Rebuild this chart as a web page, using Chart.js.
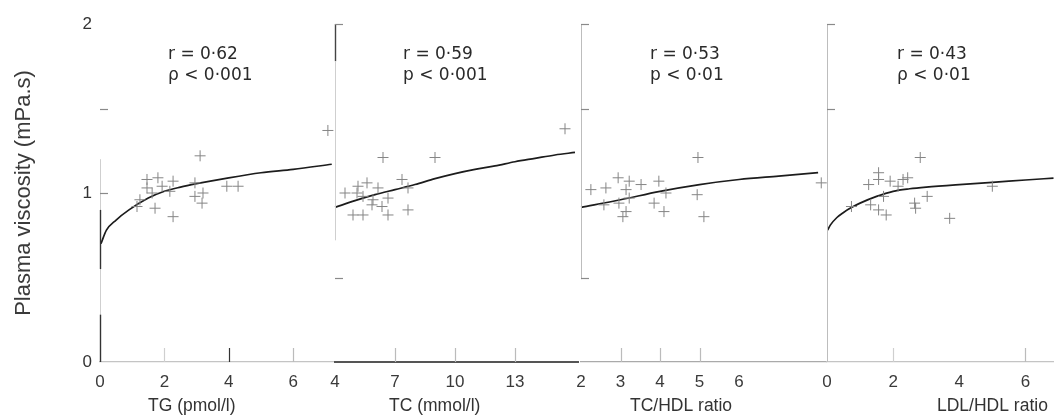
<!DOCTYPE html>
<html><head><meta charset="utf-8">
<script src="https://cdn.jsdelivr.net/npm/chart.js@4/dist/chart.umd.min.js"></script>
<style>
body{margin:0;background:#fff;}
#wrap{position:relative;width:1060px;height:418px;overflow:hidden;background:#fff;}
canvas{position:absolute;left:0;top:0;}
</style></head>
<body><div id="wrap">
<canvas id="c0" width="1060" height="418"></canvas>
<canvas id="c1" width="1060" height="418"></canvas>
<canvas id="c2" width="1060" height="418"></canvas>
<canvas id="c3" width="1060" height="418"></canvas>
</div>
<script>
// ---------- data ----------
const yTicks = [0, 1, 2];
const xTitles = ['TG (pmol/l)', 'TC (mmol/l)', 'TC/HDL ratio', 'LDL/HDL ratio'];
const rTexts = ['r = 0·62', 'r = 0·59', 'r = 0·53', 'r = 0·43'];
const pTexts = ['ρ < 0·001', 'p < 0·001', 'p < 0·01', 'ρ < 0·01'];

const tgTicks  = [0, 2, 4, 6];
const tcTicks  = [4, 7, 10, 13];
const tchTicks = [2, 3, 4, 5, 6];
const ldlTicks = [0, 2, 4, 6];

// scatter points
const tgX = [1.46, 1.80, 2.27, 1.46, 1.93, 2.17, 2.95, 3.20, 3.94, 4.29, 3.17, 1.15, 1.71, 2.27, 1.24, 3.11, 7.08, 1.62, 2.95];
const tgY = [1.08, 1.09, 1.07, 1.03, 1.04, 1.01, 1.06, 1.00, 1.04, 1.04, 0.94, 0.92, 0.91, 0.86, 0.96, 1.22, 1.37, 1.00, 0.98];

const tcX = [5.15, 5.6, 6.15, 5.1, 5.4, 5.9, 6.65, 5.85, 6.35, 4.9, 5.4, 6.65, 7.35, 7.65, 7.65, 6.4, 9.0, 15.5, 4.5];
const tcY = [1.04, 1.06, 1.03, 1.00, 0.98, 0.96, 0.97, 0.93, 0.92, 0.87, 0.87, 0.87, 1.08, 1.03, 0.90, 1.21, 1.21, 1.38, 1.00];

const tchX = [2.94, 3.22, 2.63, 3.14, 3.52, 3.97, 4.15, 3.22, 2.58, 2.96, 3.85, 3.14, 3.06, 4.10, 4.96, 4.94, 5.11, 8.08, 2.25];
const tchY = [1.09, 1.07, 1.03, 1.02, 1.05, 1.07, 1.00, 0.97, 0.93, 0.94, 0.94, 0.89, 0.86, 0.89, 1.21, 0.99, 0.86, 1.06, 1.02];

const ldlX = [1.26, 1.56, 1.56, 1.91, 2.44, 2.82, 2.15, 1.71, 1.32, 1.56, 1.79, 2.65, 2.68, 3.03, 3.71, 5.0, 0.74, 2.3];
const ldlY = [1.05, 1.08, 1.12, 1.07, 1.09, 1.21, 1.04, 0.98, 0.93, 0.90, 0.87, 0.94, 0.91, 0.98, 0.85, 1.04, 0.92, 1.08];

// fitted curves
const tgFitX = [0.03, 0.2, 0.5, 0.9, 1.5, 2.0, 2.5, 3.0, 4.0, 5.0, 6.0, 7.2];
const tgFitY = [0.70, 0.78, 0.84, 0.90, 0.97, 1.01, 1.035, 1.055, 1.09, 1.12, 1.14, 1.17];

const tcFitX = [4, 5, 6, 7, 8, 9, 10, 11, 12, 13, 14, 15, 16];
const tcFitY = [0.915, 0.955, 0.99, 1.02, 1.05, 1.085, 1.115, 1.14, 1.16, 1.185, 1.205, 1.225, 1.24];

const tchFitX = [2, 3, 4, 5, 6, 7, 8];
const tchFitY = [0.915, 0.96, 1.01, 1.05, 1.08, 1.10, 1.12];

const ldlFitX = [0.02, 0.1, 0.3, 0.5, 0.75, 1.0, 1.5, 2.0, 2.5, 3.0, 4.0, 5.0, 6.0, 6.85];
const ldlFitY = [0.78, 0.81, 0.855, 0.885, 0.915, 0.94, 0.98, 1.01, 1.025, 1.035, 1.05, 1.063, 1.077, 1.088];

// ---------- drawing ----------
const FONT = '"Liberation Sans", Arial, sans-serif';
const ANNOT_FONT = '"DejaVu Sans", sans-serif';

const deco = {
  id: 'deco',
  afterDraw(chart, args, o) {
    const ctx = chart.ctx, xs = chart.scales.x, ys = chart.scales.y;
    ctx.save();
    // y axis segments
    o.ySeg.forEach(s => {
      ctx.strokeStyle = s[2]; ctx.lineWidth = s[3];
      const x = xs.left + 0.5;
      ctx.beginPath(); ctx.moveTo(x, ys.getPixelForValue(s[0])); ctx.lineTo(x, ys.getPixelForValue(s[1])); ctx.stroke();
    });
    // small y ticks (inward)
    ctx.strokeStyle = '#8a8a8a'; ctx.lineWidth = 1.2;
    o.yMarks.forEach(v => {
      const y = Math.round(ys.getPixelForValue(v)) + 0.5;
      ctx.beginPath(); ctx.moveTo(xs.left, y); ctx.lineTo(xs.left + 8, y); ctx.stroke();
    });
    // inward x ticks
    o.xMarks.forEach(m => {
      ctx.strokeStyle = m[1]; ctx.lineWidth = 1.2;
      const x = Math.round(xs.getPixelForValue(m[0])) + 0.5;
      ctx.beginPath(); ctx.moveTo(x, ys.bottom); ctx.lineTo(x, ys.bottom - 14); ctx.stroke();
    });
    // annotation
    ctx.fillStyle = '#2a2a2a';
    ctx.font = '17px ' + ANNOT_FONT;
    ctx.textAlign = 'left'; ctx.textBaseline = 'alphabetic';
    ctx.fillText(o.r, o.tx, 59);
    ctx.fillText(o.p, o.tx, 80);
    // x title
    ctx.font = '17.5px ' + FONT;
    ctx.fillStyle = '#333';
    ctx.textAlign = 'left'; ctx.textBaseline = 'middle';
    ctx.fillText(o.title, o.titleX, 406);
    ctx.restore();
  }
};

function makePanel(id, p) {
  const first = p.first;
  return new Chart(document.getElementById(id), {
    type: 'scatter',
    data: {
      datasets: [
        { data: p.px.map((x, i) => ({ x, y: p.py[i] })), pointStyle: 'cross', pointRadius: 5.5,
          pointBorderColor: '#858585', pointBorderWidth: 1, pointBackgroundColor: '#858585', showLine: false, clip: false },
        { data: p.fx.map((x, i) => ({ x, y: p.fy[i] })), showLine: true, pointRadius: 0,
          borderColor: '#1c1c1c', borderWidth: 1.7, cubicInterpolationMode: 'monotone', fill: false, clip: false }
      ]
    },
    options: {
      responsive: false, animation: false, devicePixelRatio: 1,
      layout: { padding: { left: p.padL, right: p.padR, top: 24, bottom: 0 } },
      plugins: {
        legend: { display: false }, tooltip: { enabled: false },
        deco: { ySeg: p.ySeg, yMarks: p.yMarks, xMarks: p.xMarks, r: p.r, p: p.p, tx: p.tx, title: p.title, titleX: p.titleX }
      },
      scales: {
        x: {
          type: 'linear', min: p.xmin, max: p.xmax, position: 'bottom',
          afterBuildTicks: s => { s.ticks = p.ticks.map(v => ({ value: v })); },
          afterFit: s => { s.height = 56; },
          ticks: { font: { family: FONT, size: 17 }, color: '#3a3a3a', padding: 10, maxRotation: 0, autoSkip: false },
          grid: { display: false, drawTicks: false },
          border: { display: true, color: p.xColor, width: p.xWidth }
        },
        y: {
          type: 'linear', min: 0, max: 2, position: 'left',
          afterBuildTicks: s => { s.ticks = yTicks.map(v => ({ value: v })); },
          afterFit: s => { s.width = first ? 100 : 0; },
          ticks: { display: first, font: { family: FONT, size: 17 }, color: '#333', padding: 8 },
          grid: { display: false, drawTicks: false },
          border: { display: false },
          title: { display: first, text: 'Plasma viscosity (mPa.s)', font: { family: FONT, size: 22 }, color: '#3a3a3a', padding: { top: 11, bottom: 0 } }
        }
      }
    },
    plugins: [deco]
  });
}

makePanel('c0', { first: true, padL: 0, padR: 1060 - 334, xmin: 0, xmax: 7.27, ticks: tgTicks,
  px: tgX, py: tgY, fx: tgFitX, fy: tgFitY, xColor: '#c4c4c4', xWidth: 1.2,
  ySeg: [[0, 1.2, '#cfcfcf', 1], [0.55, 0.9, '#333', 1.4], [0.0, 0.28, '#333', 1.4]],
  yMarks: [1, 1.5], xMarks: [[2, '#cfcfcf'], [4, '#333'], [6, '#bbb']],
  r: rTexts[0], p: pTexts[0], tx: 168, title: xTitles[0], titleX: 148 });

makePanel('c1', { first: false, padL: 335, padR: 1060 - 578, xmin: 4, xmax: 16.15, ticks: tcTicks,
  px: tcX, py: tcY, fx: tcFitX, fy: tcFitY, xColor: '#555', xWidth: 2,
  ySeg: [[2, 1.78, '#444', 1.4], [1.78, 0.72, '#cfcfcf', 1]],
  yMarks: [2, 0.5], xMarks: [[7, '#bbb'], [10, '#bbb'], [13, '#bbb']],
  r: rTexts[1], p: pTexts[1], tx: 403, title: xTitles[1], titleX: 389 });

makePanel('c2', { first: false, padL: 581, padR: 1060 - 826, xmin: 2, xmax: 8.2, ticks: tchTicks,
  px: tchX, py: tchY, fx: tchFitX, fy: tchFitY, xColor: '#aaa', xWidth: 1.2,
  ySeg: [[2, 0.49, '#bdbdbd', 1]],
  yMarks: [2, 1.5, 0.5], xMarks: [[3, '#bbb'], [4, '#bbb'], [5, '#bbb']],
  r: rTexts[2], p: pTexts[2], tx: 650, title: xTitles[2], titleX: 630 });

makePanel('c3', { first: false, padL: 827, padR: 0, xmin: 0, xmax: 6.85, ticks: ldlTicks,
  px: ldlX, py: ldlY, fx: ldlFitX, fy: ldlFitY, xColor: '#c4c4c4', xWidth: 1.2,
  ySeg: [[2, 0, '#bdbdbd', 1]],
  yMarks: [2, 1.5], xMarks: [[2, '#cfcfcf'], [6, '#bbb']],
  r: rTexts[3], p: pTexts[3], tx: 897, title: xTitles[3], titleX: 937 });
</script>
</body></html>
